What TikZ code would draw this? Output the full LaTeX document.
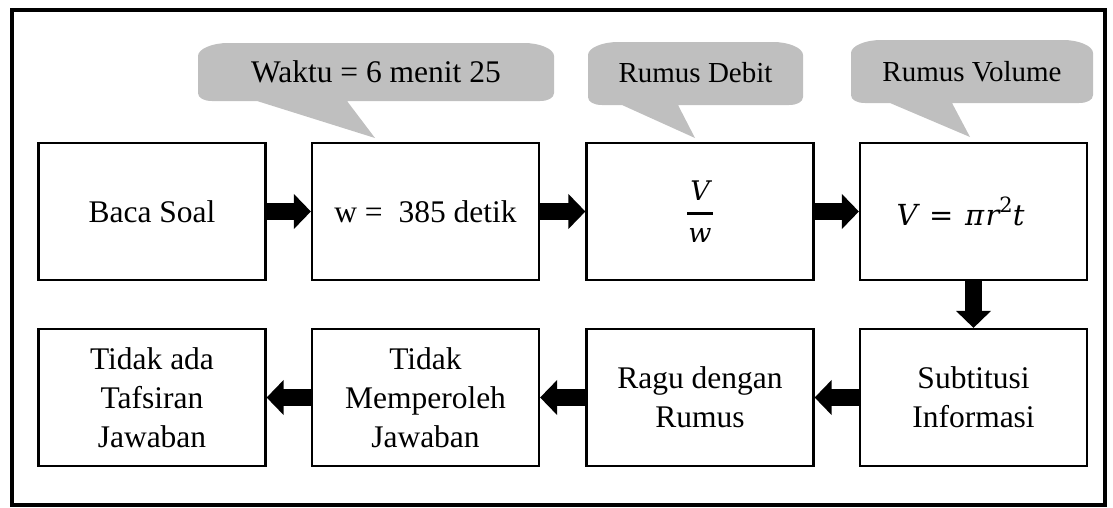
\documentclass[tikz,border=0pt]{standalone}
\usepackage{fontspec}
\setmainfont{Liberation Serif}
\newfontfamily\dvfont{DejaVu Serif}
\newfontfamily\dvifont{DejaVu Serif Italic}
\usetikzlibrary{arrows.meta}
\definecolor{callgray}{RGB}{191,191,191}
\newcommand{\mycallout}[8]{%
  \fill[callgray] (#1,#4-8) -- (#1,#2+13) .. controls (#1,#2+6) and (#1+14,#2) .. (#1+30,#2)
    -- (#3-30,#2) .. controls (#3-14,#2) and (#3,#2+6) .. (#3,#2+13)
    -- (#3,#4-8) .. controls (#3,#4-3) and (#3-6,#4) .. (#3-14,#4)
    -- (#6,#4) -- (#7,#8) -- (#5,#4)
    -- (#1+14,#4) .. controls (#1+6,#4) and (#1,#4-3) .. (#1,#4-8) -- cycle;}
\begin{document}
\begin{tikzpicture}[x=1pt,y=-1pt,
  box/.style={draw,line width=2.2pt,minimum width=227pt,minimum height=137pt,
    align=center,inner sep=0pt,font=\fontsize{31.5}{39}\selectfont},
  mathbox/.style={box,font=\fontsize{27}{32}\selectfont},
  formbox/.style={box,font=\fontsize{29}{34}\selectfont},
  barrow/.style={line width=17pt,-{Triangle[length=17pt 0,width=34pt 0]}},
  calltext/.style={inner sep=0pt,font=\fontsize{29}{34}\selectfont},
  calltextbig/.style={inner sep=0pt,font=\fontsize{31.5}{36}\selectfont}]
\useasboundingbox (0,0) rectangle (1113,507);
% outer frame
\draw[line width=4pt] (12,10) rectangle (1105,505);
% callouts
\mycallout{198}{43}{554}{101}{257}{347}{375}{138}
\mycallout{588}{42}{803}{105}{622}{678}{695}{138}
\mycallout{851}{40}{1093}{103}{890}{952}{970}{137}
\node[calltextbig] (c1) at (376,72) {Waktu = 6 menit 25};
\node[calltext] (c2) at (695.5,73) {Rumus Debit};
\node[calltext] (c3) at (972,72) {Rumus Volume};
% top row
\node[box] (n1) at (152,211.5) {Baca Soal};
\node[box] (n2) at (425.5,211.5) {w = \ 385 detik};
\node[mathbox] (n3) at (700,211.5) {\vbox{\hbox to 26pt{\hss\dvifont V\hss}\kern 11.7pt\hrule height 2.6pt\kern 13.7pt\hbox to 26pt{\hss\dvifont w\hss}}};
\node[formbox] (n4) at (973.5,211.5) {{\dvifont V}\hspace{0.4em}{\dvfont =}\hspace{0.4em}{\dvifont π\hspace{0.05em}r}\raisebox{0.45em}{\fontsize{21}{22}\selectfont\dvfont 2}{\dvifont t}\hspace*{26pt}};
% bottom row
\node[box] (m1) at (152,397.5) {Tidak ada\\Tafsiran\\Jawaban};
\node[box] (m2) at (425.5,397.5) {Tidak\\Memperoleh\\Jawaban};
\node[box] (m3) at (700,397.5) {Ragu dengan\\Rumus};
\node[box] (m4) at (973.5,397.5) {Subtitusi\\Informasi};
% arrows
\draw[barrow] (n1) -- (n2);
\draw[barrow] (n2) -- (n3);
\draw[barrow] (n3) -- (n4);
\draw[barrow] (n4) -- (m4);
\draw[barrow] (m4) -- (m3);
\draw[barrow] (m3) -- (m2);
\draw[barrow] (m2) -- (m1);
\end{tikzpicture}
\end{document}
